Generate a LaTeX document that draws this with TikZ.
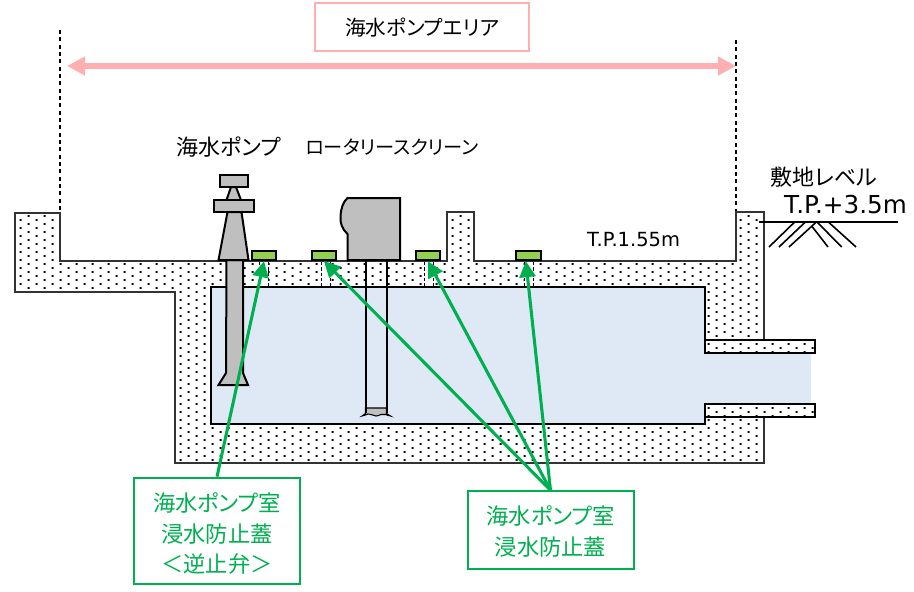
\documentclass[tikz,border=0pt]{standalone}
\usepackage{fontspec}
\usepackage{tikz}
\usetikzlibrary{arrows.meta}
\setmainfont{DejaVu Sans}
\newfontfamily\jpfont[RawFeature={+palt}]{Noto Sans CJK JP}
\definecolor{waterblue}{HTML}{DEE9F5}
\definecolor{lidgreen}{HTML}{92D050}
\definecolor{notegreen}{HTML}{00B050}
\definecolor{areapink}{HTML}{FFAFAF}
\definecolor{partgray}{HTML}{BFBFBF}
\newcommand{\wallshape}{(15,213) -- (60,213) -- (60,261) -- (447,261) -- (447,212) -- (474,212) -- (474,261) -- (736,261) -- (736,212) -- (764,212) -- (764,463) -- (175,463) -- (175,292) -- (15,292) -- cycle}
\tikzset{
  wall/.style={draw=black!80,line width=0.9pt},
  part/.style={draw=black,line width=1.5pt,fill=partgray},
  lid/.style={draw=black,line width=1.5pt,fill=lidgreen,minimum width=18.5pt,minimum height=7pt,inner sep=0pt},
  note/.style={draw=notegreen,line width=1.5pt,text=notegreen,font=\jpfont\fontsize{16.7pt}{23pt}\selectfont,align=center,inner sep=0pt},
  pointer/.style={draw=notegreen,line width=2.3pt,-{Triangle[length=12pt,width=12pt]}},
  label/.style={inner sep=0pt,font=\jpfont\fontsize{16.5pt}{18pt}\selectfont},
  level/.style={inner sep=0pt,font=\fontsize{14.6pt}{16pt}\selectfont},
  guide/.style={draw=black,line width=0.9pt,dash pattern=on 3pt off 2.5pt},
  hatch/.style={draw=black,line width=1.2pt}
}
\begin{document}
\begin{tikzpicture}[x=0.75pt,y=-0.75pt]
\useasboundingbox (0,0) rectangle (914,592);
\draw [guide] (60,30) -- (60,213);
\draw [guide] (736,40) -- (736,213);
\begin{scope}
\clip \wallshape;
\fill [black] \foreach \i in {0,...,62} { \foreach \j in {0,...,47} { ({19.7+8*mod(\i+1,2)+16*\j},{215+4*\i}) rectangle ++(1.8,1.8) } };
\end{scope}
\draw [wall] \wallshape;
\foreach \xa/\xb in {259/268,321/330,424/433,524/533} {
  \fill [white] (\xa,262) rectangle (\xb,287);
  \draw [black,line width=0.6pt,dash pattern=on 2.5pt off 1.5pt] (\xa,262) -- (\xa,287);
  \draw [black,line width=0.6pt,dash pattern=on 2.5pt off 1.5pt] (\xb,262) -- (\xb,287);
}
\fill [waterblue] (211,287) -- (705,287) -- (705,352) -- (811,352) -- (811,404) -- (705,404) -- (705,424) -- (211,424) -- cycle;
\draw [black,line width=1.1pt] (705,340) -- (705,287) -- (211,287) -- (211,424) -- (705,424) -- (705,416);
\foreach \ya in {340,404} {
  \fill [white] (705,\ya) rectangle (815,\ya+12.5);
  \begin{scope}
  \clip (705,\ya) rectangle (815,\ya+12.5);
  \fill [black] \foreach \i in {0,1,2} { \foreach \j in {0,...,6} { ({707.7+8*mod(\i,2)+16*\j},{\ya+3+4*\i}) rectangle ++(1.8,1.8) } };
  \end{scope}
  \draw [black,line width=1.5pt] (705,\ya) rectangle (815,\ya+12.5);
}
\draw [draw=black,line width=0.8pt,fill=partgray] (365.5,408) -- (386.5,408) -- (386.5,413.5) .. controls (388,415) .. (390.5,416) .. controls (386,415) and (384,413.5) .. (381,414.5) .. controls (379,415.5) and (377,416) .. (376,416) .. controls (373,416) and (371,413.5) .. (368,414) .. controls (366,414.5) and (364,416) .. (362,416) .. controls (364,415) .. (365.5,413.5) -- cycle;
\draw [black,line width=1.5pt] (365.5,260) -- (365.5,413);
\draw [black,line width=1.5pt] (386.5,260) -- (386.5,413);
\draw [part] (347.5,198) -- (400,198) -- (400,260) -- (347.5,260) -- (347.5,234) .. controls (342,229) and (340,223) .. (340.5,216.5) .. controls (341,208) and (343,202) .. (347.5,198) -- cycle;
\draw [part] (226.5,260) -- (243,260) -- (243,373) -- (248,385) -- (218.5,385) -- (226,373) -- cycle;
\draw [part] (227.5,212) -- (241.5,212) -- (248.5,260) -- (218.5,260) -- cycle;
\draw [part] (226.5,200) -- (231,187) -- (236,187) -- (241,200) -- cycle;
\draw [part] (213.5,200) rectangle (253.5,212);
\draw [part] (219.5,174.5) rectangle (248,186.5);
\node [lid] (lidA) at (264,255.5) {};
\node [lid] (lidB) at (324,255.5) {};
\node [lid] (lidC) at (428,255.5) {};
\node [lid] (lidD) at (528.5,255.5) {};
\node [note,minimum width=125pt,minimum height=80pt] (boxValve) at (217,531) {\rule{0pt}{18pt}海水ポンプ室\\浸水防止蓋\\＜逆止弁＞};
\node [note,minimum width=124.5pt,minimum height=58pt] (boxLid) at (550.5,530) {\rule{0pt}{16pt}海水ポンプ室\\浸水防止蓋};
\draw [pointer] (boxValve.north) -- (lidA.south);
\draw [pointer] (boxLid.north) -- (lidB.south);
\draw [pointer] (boxLid.north) -- (lidC.south);
\draw [pointer] (boxLid.north) -- ([xshift=-2pt]lidD.south);
\node [draw=areapink,line width=1.5pt,minimum width=160pt,minimum height=36pt,inner sep=0pt,font=\jpfont\fontsize{15.5pt}{18pt}\selectfont] (areaBox) at (422,27.5) {海水ポンプエリア};
\coordinate (areaL) at (67,66);
\coordinate (areaR) at (736,66);
\draw [draw=areapink,fill=areapink,line width=4.5pt,{Triangle[length=13.5pt,width=13.5pt]}-{Triangle[length=13.5pt,width=13.5pt]}] (areaL) -- (areaR);
\node [label] (pumpLabel) at (228.5,147) {海水ポンプ};
\node [label,font=\jpfont\fontsize{14.4pt}{18pt}\selectfont] (screenLabel) at (392,147) {ロータリースクリーン};
\node [label] (siteLabel) at (824,177) {敷地レベル};
\node [level,font=\fontsize{18.5pt}{20pt}\selectfont] (siteLevel) at (845.5,205) {T.P.+3.5m};
\node [level] (pitLevel) at (633.5,240) {T.P.1.55m};
\coordinate (groundL) at (759,221.7);
\coordinate (groundR) at (898,221.7);
\draw [hatch,line width=1.5pt] (groundL) -- (groundR);
\draw [hatch] (795,221.7) -- (769,247);
\draw [hatch] (805.7,221.7) -- (779,247);
\draw [hatch] (816.7,221.7) -- (789,247);
\draw [hatch] (811.7,226) -- (828,247);
\draw [hatch] (816.7,221.7) -- (841.7,247);
\draw [hatch] (828,221.7) -- (856,247);
\end{tikzpicture}
\end{document}
